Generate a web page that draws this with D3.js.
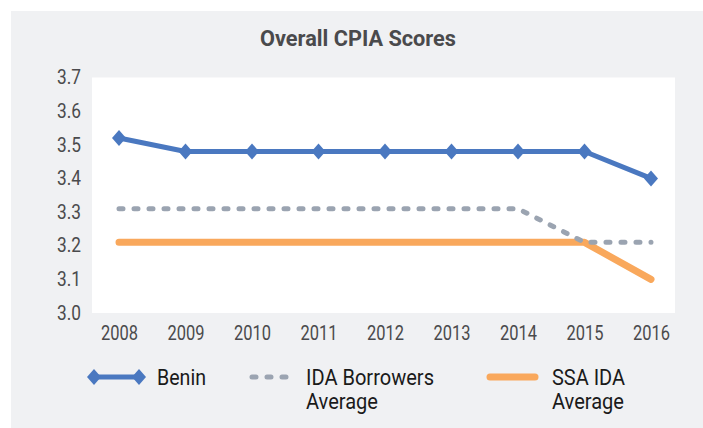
<!DOCTYPE html>
<html>
<head>
<meta charset="utf-8">
<script src="https://cdn.jsdelivr.net/npm/d3@7"></script>
<style>
  body { margin: 0; background: #fff; }
  text { font-family: Roboto, "Noto Sans", sans-serif; }
</style>
</head>
<body>
<svg id="chart"></svg>
<script>
// chart data
const years = ["2008", "2009", "2010", "2011", "2012", "2013", "2014", "2015", "2016"];
const benin = [3.52, 3.48, 3.48, 3.48, 3.48, 3.48, 3.48, 3.48, 3.40];
const idaBorrowers = [3.31, 3.31, 3.31, 3.31, 3.31, 3.31, 3.31, 3.21, 3.21];
const ssaIda = [3.21, 3.21, 3.21, 3.21, 3.21, 3.21, 3.21, 3.21, 3.10];
const yTicks = [3.0, 3.1, 3.2, 3.3, 3.4, 3.5, 3.6, 3.7];

const width = 703;
const height = 428;

const blue = "#4a78c0";
const grey = "#9ba4b1";
const orange = "#f9a85c";

const svg = d3.select("#chart")
    .attr("width", width)
    .attr("height", height);

// grey panel behind everything
svg.append("rect")
    .attr("x", 11).attr("y", 11)
    .attr("width", width - 11).attr("height", height - 11)
    .attr("fill", "#f0f1f3");

// white plot area
const plot = { left: 92, top: 77.5, right: 675, bottom: 313 };
svg.append("rect")
    .attr("x", plot.left).attr("y", plot.top)
    .attr("width", plot.right - plot.left)
    .attr("height", plot.bottom - plot.top)
    .attr("fill", "#ffffff");

svg.append("text")
    .attr("x", 358).attr("y", 46)
    .attr("text-anchor", "middle")
    .attr("font-size", 22.5)
    .attr("font-weight", "bold")
    .attr("fill", "#4a4a4c")
    .attr("textLength", 196)
    .attr("lengthAdjust", "spacingAndGlyphs")
    .text("Overall CPIA Scores");

const x = d3.scalePoint()
    .domain(years)
    .range([119, 651]);

const y = d3.scaleLinear()
    .domain([3.0, 3.7])
    .range([plot.bottom, plot.top]);

// y axis labels
const yAxis = svg.append("g")
    .attr("transform", `translate(${plot.left - 11},0)`)
    .call(d3.axisLeft(y).tickValues(yTicks).tickFormat(d3.format(".1f")).tickSize(0).tickPadding(0));
yAxis.select(".domain").remove();
yAxis.selectAll("text")
    .attr("font-size", 19.5)
    .attr("fill", "#4a4a4c")
    .attr("textLength", 24)
    .attr("lengthAdjust", "spacingAndGlyphs");

// x axis labels
const xAxis = svg.append("g")
    .attr("transform", `translate(0,${plot.bottom})`)
    .call(d3.axisBottom(x).tickSize(0).tickPadding(13));
xAxis.select(".domain").remove();
xAxis.selectAll("text")
    .attr("font-size", 19.5)
    .attr("fill", "#4a4a4c")
    .attr("textLength", 37)
    .attr("lengthAdjust", "spacingAndGlyphs");

const line = d3.line()
    .x((d, i) => x(years[i]))
    .y(d => y(d));

// SSA IDA average
svg.append("path")
    .datum(ssaIda)
    .attr("d", line)
    .attr("fill", "none")
    .attr("stroke", orange)
    .attr("stroke-width", 7)
    .attr("stroke-linecap", "round")
    .attr("stroke-linejoin", "round");

// IDA borrowers average (dashed)
svg.append("path")
    .datum(idaBorrowers)
    .attr("d", line)
    .attr("fill", "none")
    .attr("stroke", grey)
    .attr("stroke-width", 5)
    .attr("stroke-dasharray", "4,11")
    .attr("stroke-linecap", "round");

// Benin
svg.append("path")
    .datum(benin)
    .attr("d", line)
    .attr("fill", "none")
    .attr("stroke", blue)
    .attr("stroke-width", 5)
    .attr("stroke-linejoin", "round");

// diamond slightly taller than wide, like the original markers
const tallDiamond = {
    draw(context, size) {
        const w = 7, h = 8;
        context.moveTo(0, -h);
        context.lineTo(w, 0);
        context.lineTo(0, h);
        context.lineTo(-w, 0);
        context.closePath();
    }
};
const diamond = d3.symbol().type(tallDiamond);

svg.selectAll(".marker")
    .data(benin)
    .enter().append("path")
    .attr("class", "marker")
    .attr("d", diamond)
    .attr("transform", (d, i) => `translate(${x(years[i])},${y(d)})`)
    .attr("fill", blue);

// Legend
const legend = svg.append("g").attr("class", "legend");
const legendY = 377;

function legendText(xPos, lines, lengths) {
    const t = legend.append("text")
        .attr("font-size", 22)
        .attr("fill", "#1a1a1a");
    lines.forEach((s, i) => {
        t.append("tspan")
            .attr("x", xPos)
            .attr("y", legendY + 8 + i * 24)
            .attr("textLength", lengths[i])
            .attr("lengthAdjust", "spacingAndGlyphs")
            .text(s);
    });
}

legend.append("line")
    .attr("x1", 94).attr("x2", 139)
    .attr("y1", legendY).attr("y2", legendY)
    .attr("stroke", blue).attr("stroke-width", 5);
[94, 139].forEach(px => {
    legend.append("path")
        .attr("d", diamond)
        .attr("transform", `translate(${px},${legendY})`)
        .attr("fill", blue);
});
legendText(157, ["Benin"], [49]);

legend.append("line")
    .attr("x1", 252).attr("x2", 289)
    .attr("y1", legendY).attr("y2", legendY)
    .attr("stroke", grey).attr("stroke-width", 5)
    .attr("stroke-dasharray", "4,11")
    .attr("stroke-linecap", "round");
legendText(306, ["IDA Borrowers", "Average"], [128, 72]);

legend.append("line")
    .attr("x1", 490).attr("x2", 535)
    .attr("y1", legendY).attr("y2", legendY)
    .attr("stroke", orange).attr("stroke-width", 7)
    .attr("stroke-linecap", "round");
legendText(552, ["SSA IDA", "Average"], [73, 72]);
</script>
</body>
</html>
